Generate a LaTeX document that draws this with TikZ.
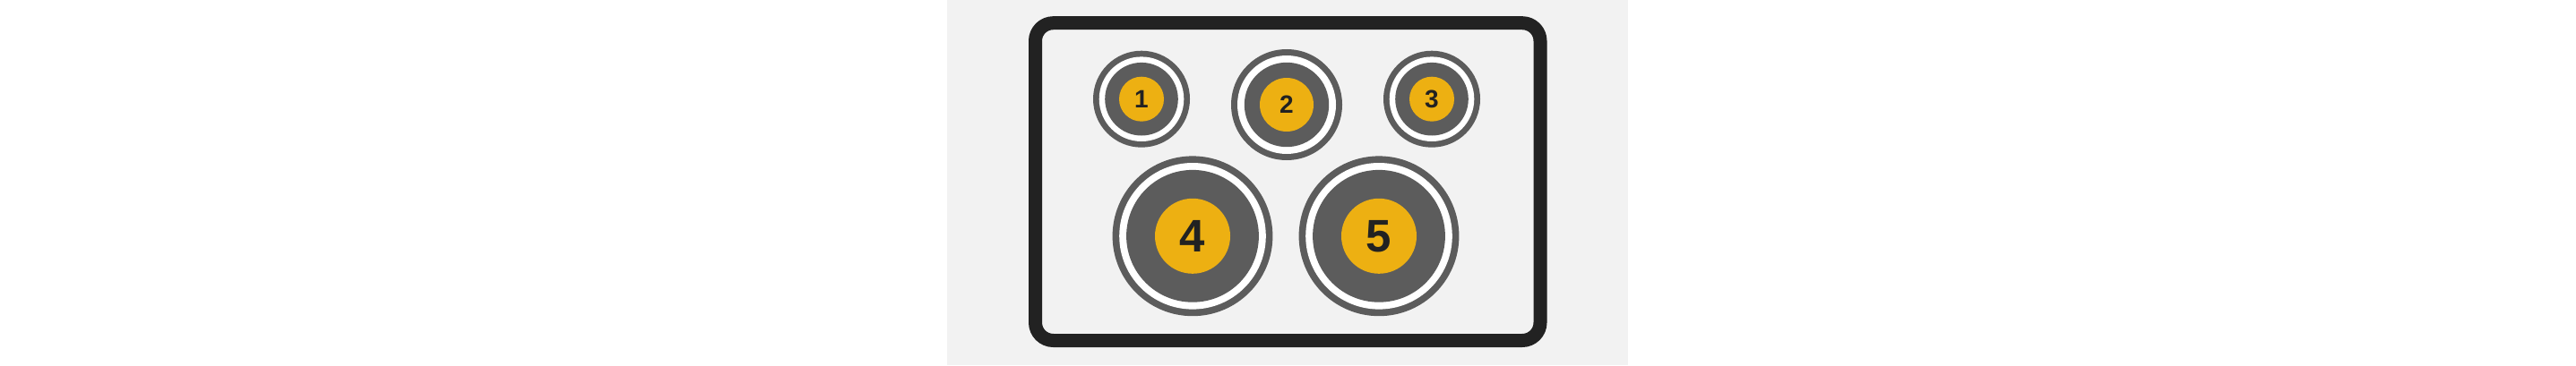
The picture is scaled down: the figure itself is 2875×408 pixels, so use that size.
\documentclass[tikz,border=0pt]{standalone}
\usepackage{fontspec}
\setmainfont{Liberation Sans}
\usetikzlibrary{positioning}
\definecolor{panelbg}{HTML}{F2F2F2}
\definecolor{framedark}{HTML}{222222}
\definecolor{ringgray}{HTML}{5C5C5C}
\definecolor{hotyellow}{HTML}{EDB012}
\tikzset{
  smallnum/.style={text=framedark,font=\bfseries\fontsize{28}{28}\selectfont,inner sep=0pt},
  bignum/.style={text=framedark,font=\bfseries\fontsize{51}{51}\selectfont,inner sep=0pt}
}
\begin{document}
\begin{tikzpicture}[line cap=round,line join=round,x=1pt,y=1pt]
\useasboundingbox (0,0) rectangle (2875,408);
\fill[white] (0,0) rectangle (2875,408);
\fill[panelbg] (1057,0) rectangle (1817,408);
\draw[framedark,line width=15pt,rounded corners=20pt] (1155.5,27.5) rectangle (1719,382.3);
% small burners
\fill[ringgray] (1274,297.3) circle (54pt);
\fill[white] (1274,297.3) circle (47.3pt);
\fill[ringgray] (1274,297.3) circle (40.8pt);
\fill[hotyellow] (1274,297.3) circle (25pt);
\fill[ringgray] (1436,291) circle (62pt);
\fill[white] (1436,291) circle (55pt);
\fill[ringgray] (1436,291) circle (47.2pt);
\fill[hotyellow] (1436,291) circle (30pt);
\fill[ringgray] (1598,297.3) circle (54pt);
\fill[white] (1598,297.3) circle (47.3pt);
\fill[ringgray] (1598,297.3) circle (40.8pt);
\fill[hotyellow] (1598,297.3) circle (25pt);
% big burners
\fill[ringgray] (1331,144.2) circle (89.4pt);
\fill[white] (1331,144.2) circle (81.8pt);
\fill[ringgray] (1331,144.2) circle (73.9pt);
\fill[hotyellow] (1331,144.2) circle (42pt);
\fill[ringgray] (1539,144.2) circle (89.4pt);
\fill[white] (1539,144.2) circle (81.8pt);
\fill[ringgray] (1539,144.2) circle (73.9pt);
\fill[hotyellow] (1539,144.2) circle (42pt);
\node[smallnum] (num1) at (1274,297.3) {1};
\node[smallnum] (num2) at (1436,291) {2};
\node[smallnum] (num3) at (1598,297.3) {3};
\node[bignum] (num4) at (1331,144.2) {4};
\node[bignum] (num5) at (1539,144.2) {5};
\end{tikzpicture}
\end{document}
